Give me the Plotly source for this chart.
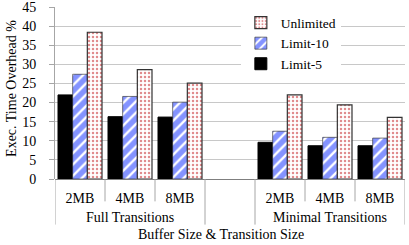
import plotly.graph_objects as go

# ---- data ----
categories = ["2MB", "4MB", "8MB", "", "2MB", "4MB", "8MB"]
groups = ["Full Transitions", "Minimal Transitions"]
limit5 = [22.0, 16.3, 16.2, None, 9.6, 8.7, 8.7]
limit10 = [27.4, 21.6, 20.1, None, 12.5, 10.9, 10.7]
unlimited = [38.4, 28.6, 25.1, None, 22.0, 19.4, 16.1]
y_ticks = [0, 5, 10, 15, 20, 25, 30, 35, 40, 45]

x = list(range(len(categories)))
FONT = "Liberation Serif, Times New Roman, serif"

fig = go.Figure()
fig.add_trace(go.Bar(
    x=x, y=limit5, name="Limit-5", legendrank=3,
    marker=dict(color="black", line=dict(color="black", width=1)),
))
fig.add_trace(go.Bar(
    x=x, y=limit10, name="Limit-10", legendrank=2,
    marker=dict(color="white", line=dict(color="#222", width=0.6),
                pattern=dict(shape="/", fgcolor="#0a28ff", bgcolor="white",
                             size=8, solidity=0.7)),
))
fig.add_trace(go.Bar(
    x=x, y=unlimited, name="Unlimited", legendrank=1,
    marker=dict(color="white", line=dict(color="#333", width=1.2),
                pattern=dict(shape=".", fgcolor="#c0181c", bgcolor="white",
                             size=4, solidity=0.3)),
))

# separators below the axis
shapes = []
for i in range(len(categories) + 1):
    xv = i - 0.5
    long_line = i in (0, 3, 4, 7)
    shapes.append(dict(type="line", xref="x", yref="paper", x0=xv, x1=xv,
                       y0=0, y1=-0.265 if long_line else -0.13,
                       line=dict(color="#a6a6a6", width=1)))

annotations = [
    dict(text=groups[0], x=1, y=-0.222, xref="x", yref="paper",
         showarrow=False, font=dict(family=FONT, size=14, color="black"),
         xanchor="center", yanchor="middle"),
    dict(text=groups[1], x=5, y=-0.222, xref="x", yref="paper",
         showarrow=False, font=dict(family=FONT, size=14, color="black"),
         xanchor="center", yanchor="middle"),
    dict(text="Buffer Size &amp; Transition Size", x=0.474, y=-0.323,
         xref="paper", yref="paper", showarrow=False,
         font=dict(family=FONT, size=14, color="black"),
         xanchor="center", yanchor="middle"),
    dict(text="Exec. Time Overhead %", x=-0.126, y=0.529, xref="paper",
         yref="paper", showarrow=False, textangle=-90,
         font=dict(family=FONT, size=14, color="black"),
         xanchor="center", yanchor="middle"),
]

fig.update_layout(
    width=409, height=245,
    margin=dict(l=55, r=4, t=7, b=66, autoexpand=False),
    paper_bgcolor="white", plot_bgcolor="white",
    barmode="group", bargap=0.12, bargroupgap=0,
    font=dict(family=FONT, size=14, color="black"),
    showlegend=True,
    legend=dict(x=0.531, y=0.998, xanchor="left", yanchor="top",
                bgcolor="white", borderwidth=0,
                font=dict(family=FONT, size=13.5, color="black")),
    shapes=shapes,
    annotations=annotations,
)
fig.update_xaxes(range=[-0.5, len(categories) - 0.5], tickmode="array",
                 tickvals=x, ticktext=categories, ticks="outside",
                 ticklen=6, tickcolor="rgba(0,0,0,0)", automargin=False,
                 ticklabeloverflow="allow",
                 showgrid=False, zeroline=False, showline=False,
                 tickfont=dict(family=FONT, size=14, color="black"))
fig.update_yaxes(range=[0, 45], tickmode="array", tickvals=y_ticks,
                 showgrid=True, gridcolor="#c8c8c8", gridwidth=1,
                 showline=True, linecolor="#a6a6a6", linewidth=1,
                 ticks="outside", ticklen=5, tickcolor="#a6a6a6",
                 ticklabelstandoff=10, automargin=False,
                 ticklabeloverflow="allow",
                 zeroline=True, zerolinecolor="#7f7f7f", zerolinewidth=1,
                 tickfont=dict(family=FONT, size=14, color="black"))

fig.write_html("out.html",
               config={"displayModeBar": False},
               post_script="document.body.style.margin='0';"
                           "document.body.style.overflow='hidden';")
